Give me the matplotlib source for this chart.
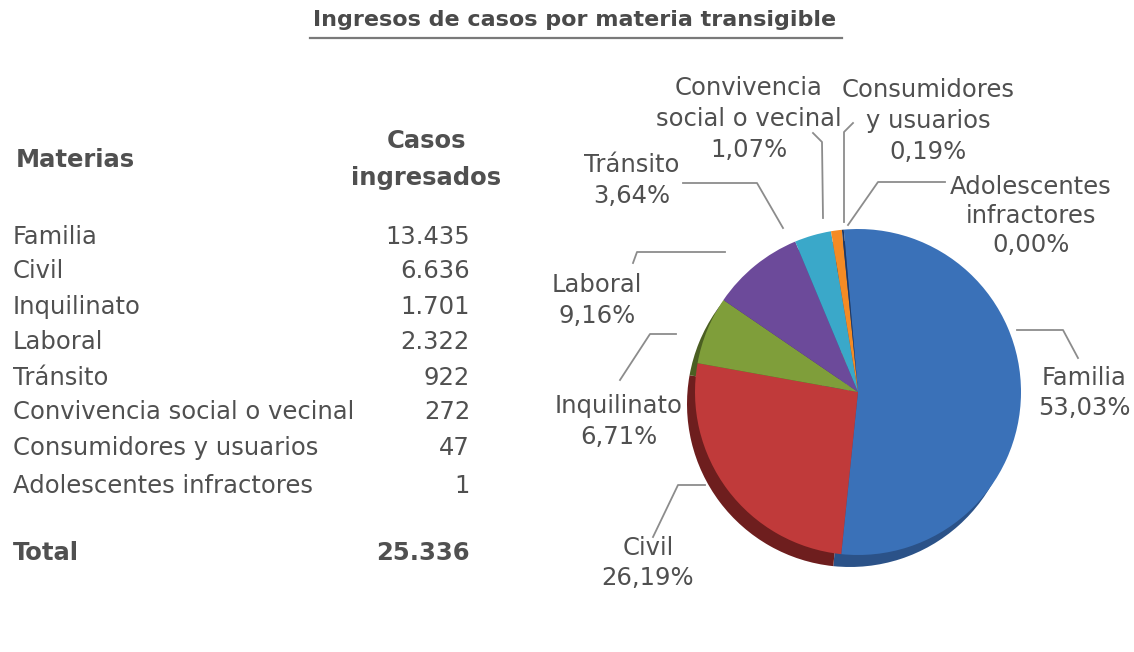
import matplotlib
matplotlib.use("Agg")
import matplotlib.pyplot as plt

plt.rcParams.update({
    "font.family": ["DejaVu Sans"],
})

# ---- data ----
materias = ["Familia", "Civil", "Inquilinato", "Laboral", "Tránsito",
            "Convivencia social o vecinal", "Consumidores y usuarios",
            "Adolescentes infractores"]
casos = [13435, 6636, 1701, 2322, 922, 272, 47, 1]
pie_names = ["Familia", "Civil", "Inquilinato", "Laboral", "Tránsito",
             "Convivencia\nsocial o vecinal", "Consumidores\ny usuarios",
             "Adolescentes\ninfractores"]
colors = ["#3a71b8", "#c03a3a", "#7f9e3a", "#6c4a9a", "#3aa8c9",
          "#f48b24", "#1f3864", "#1f3864"]
dark = ["#2b5288", "#6e1e1e", "#4b5f22", "#432c63", "#23708a",
        "#a85c16", "#111f38", "#111f38"]

W, H = 1134, 652
TXT = "#505050"
LINE = "#8c8c8c"


def Y(y):
    # pixel row (from top) -> data y
    return H - y


fig = plt.figure(figsize=(W / 100, H / 100), dpi=100)
ax = fig.add_axes([0, 0, 1, 1])

# title + underline
ax.text(575, Y(20), "Ingresos de casos por materia transigible", ha="center",
        va="center", fontsize=16, fontweight="bold", color="#4a4a4a")
ax.plot([310, 842], [Y(38), Y(38)], color="#7a7a7a", lw=1.6)

# table
ax.text(16, Y(160), "Materias", ha="left", va="center", fontsize=17.5,
        fontweight="bold", color=TXT)
ax.text(426, Y(141), "Casos", ha="center", va="center", fontsize=17.5,
        fontweight="bold", color=TXT)
ax.text(426, Y(178), "ingresados", ha="center", va="center", fontsize=17.5,
        fontweight="bold", color=TXT)

row_y = [237, 271, 307, 342, 378, 412, 448, 486]
for name, v, yy in zip(materias, casos, row_y):
    ax.text(13, Y(yy), name, ha="left", va="center", fontsize=17.5, color=TXT)
    ax.text(470, Y(yy), f"{v:,}".replace(",", "."), ha="right", va="center",
            fontsize=17.5, color=TXT)

total = sum(casos)
ax.text(13, Y(553), "Total", ha="left", va="center", fontsize=17.5,
        fontweight="bold", color=TXT)
ax.text(470, Y(553), f"{total:,}".replace(",", "."), ha="right", va="center",
        fontsize=17.5, fontweight="bold", color=TXT)

# pie with a dark "depth" layer underneath
cx, cy, r = 858, Y(392), 163
ax.pie(casos, colors=dark, startangle=95, counterclock=False,
       center=(cx - 8, cy - 12), radius=r, frame=True,
       wedgeprops=dict(linewidth=0))
ax.pie(casos, colors=colors, startangle=95, counterclock=False,
       center=(cx, cy), radius=r, frame=True,
       wedgeprops=dict(linewidth=0))

# labels: (center x, first line y, line step)
label_pos = [(1084, 378, 30), (648, 548, 30), (619, 406, 31),
             (597, 285, 31), (632, 165, 31), (749, 88, 31),
             (928, 90, 31), (1031, 187, 29)]
for name, v, (lx, ly, step) in zip(pie_names, casos, label_pos):
    pct = f"{100 * v / total:.2f}%".replace(".", ",")
    lines = name.split("\n") + [pct]
    for i, t in enumerate(lines):
        ax.text(lx, Y(ly + i * step), t, ha="center", va="center",
                fontsize=17.5, color=TXT)

# leader lines (pixel coords)
leaders = [
    [(1017, 330), (1063, 330), (1078, 358)],         # Familia
    [(653, 537), (678, 485), (705, 485)],            # Civil
    [(620, 380), (650, 334), (676, 334)],            # Inquilinato
    [(633, 263), (637, 252), (725, 252)],            # Laboral
    [(683, 183), (757, 183), (783, 228)],            # Transito
    [(813, 133), (822, 142), (823, 218)],            # Convivencia
    [(853, 123), (844, 132), (844, 222)],            # Consumidores
    [(848, 225), (878, 182), (945, 182)],            # Adolescentes
]
for pts in leaders:
    ax.plot([p[0] for p in pts], [Y(p[1]) for p in pts], color=LINE, lw=1.3)

ax.set_xlim(0, W)
ax.set_ylim(0, H)
ax.axis("off")

fig.savefig("out.png", dpi=100, facecolor="white")
